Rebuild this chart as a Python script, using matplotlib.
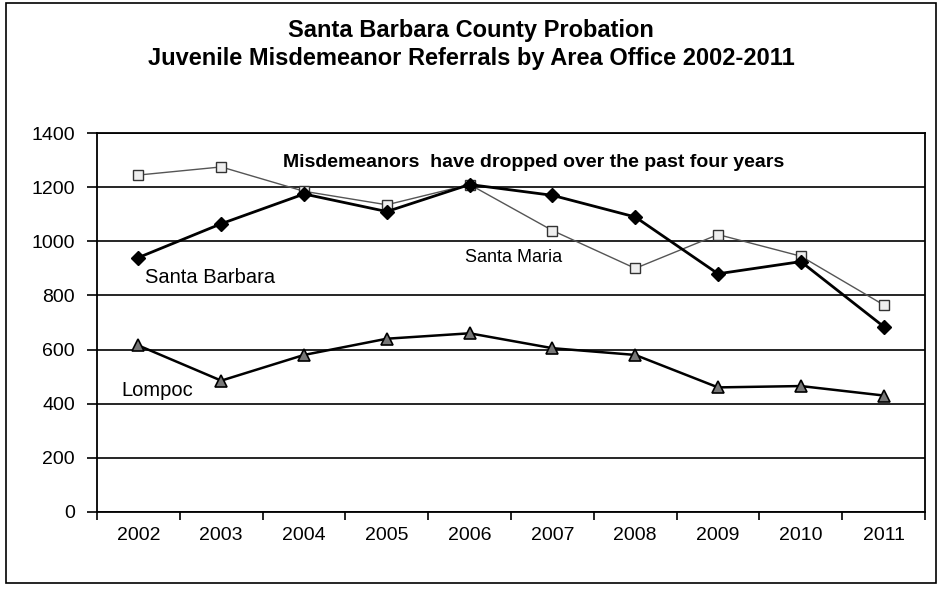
import matplotlib.pyplot as plt
from matplotlib.patches import Rectangle
import numpy as np

plt.rcParams['font.family'] = ['Liberation Sans', 'DejaVu Sans']

years = ['2002', '2003', '2004', '2005', '2006', '2007', '2008', '2009', '2010', '2011']
santa_maria = [1245, 1275, 1185, 1135, 1210, 1040, 900, 1025, 945, 765]
santa_barbara = [940, 1065, 1175, 1110, 1210, 1170, 1090, 880, 925, 685]
lompoc = [615, 485, 580, 640, 660, 605, 580, 460, 465, 430]

fig = plt.figure(figsize=(9.42, 5.89), dpi=100)
ax = fig.add_axes([0.103, 0.131, 0.879, 0.643])

x = np.arange(len(years))

ax.plot(x, santa_maria, color='#555555', linewidth=1.0, marker='s', markersize=7,
        markerfacecolor='#eeeeee', markeredgecolor='#333333', markeredgewidth=1.0, zorder=3)
ax.plot(x, santa_barbara, color='black', linewidth=2.0, marker='D', markersize=7,
        markerfacecolor='black', markeredgecolor='black', zorder=4)
ax.plot(x, lompoc, color='black', linewidth=1.8, marker='^', markersize=8,
        markerfacecolor='#777777', markeredgecolor='black', markeredgewidth=1.2, zorder=4)

ax.set_xlim(-0.5, len(years) - 0.5)
ax.set_ylim(0, 1400)
ax.set_yticks(range(0, 1401, 200))
ax.yaxis.grid(True, color='black', linewidth=1.2)
ax.set_axisbelow(True)

# category axis: ticks on boundaries, labels centred
ax.set_xticks(np.arange(-0.5, len(years), 1.0))
ax.set_xticklabels([])
ax.set_xticks(x, minor=True)
ax.set_xticklabels(years, minor=True, fontsize=14)
ax.tick_params(axis='x', which='minor', length=0, pad=11)
ax.tick_params(axis='x', which='major', length=6, width=1.2, direction='out')
ax.tick_params(axis='y', length=7, width=1.2, direction='out', labelsize=14, pad=9)

for s in ax.spines.values():
    s.set_linewidth(1.3)

ax.text(1.75, 1290, 'Misdemeanors  have dropped over the past four years', fontsize=14,
        fontweight='bold', ha='left', va='center')
ax.text(0.08, 865, 'Santa Barbara', fontsize=14.5, ha='left', va='center')
ax.text(3.95, 940, 'Santa Maria', fontsize=13, ha='left', va='center')
ax.text(-0.2, 450, 'Lompoc', fontsize=14.5, ha='left', va='center')

fig.text(0.5, 0.948, 'Santa Barbara County Probation', fontsize=17, fontweight='bold',
         ha='center', va='center')
fig.text(0.5, 0.901, 'Juvenile Misdemeanor Referrals by Area Office 2002-2011', fontsize=17,
         fontweight='bold', ha='center', va='center')

fig.patches.append(Rectangle((0.006, 0.01), 0.988, 0.985, transform=fig.transFigure,
                             fill=False, edgecolor='black', linewidth=1.2))

fig.savefig('out.png', dpi=100)
